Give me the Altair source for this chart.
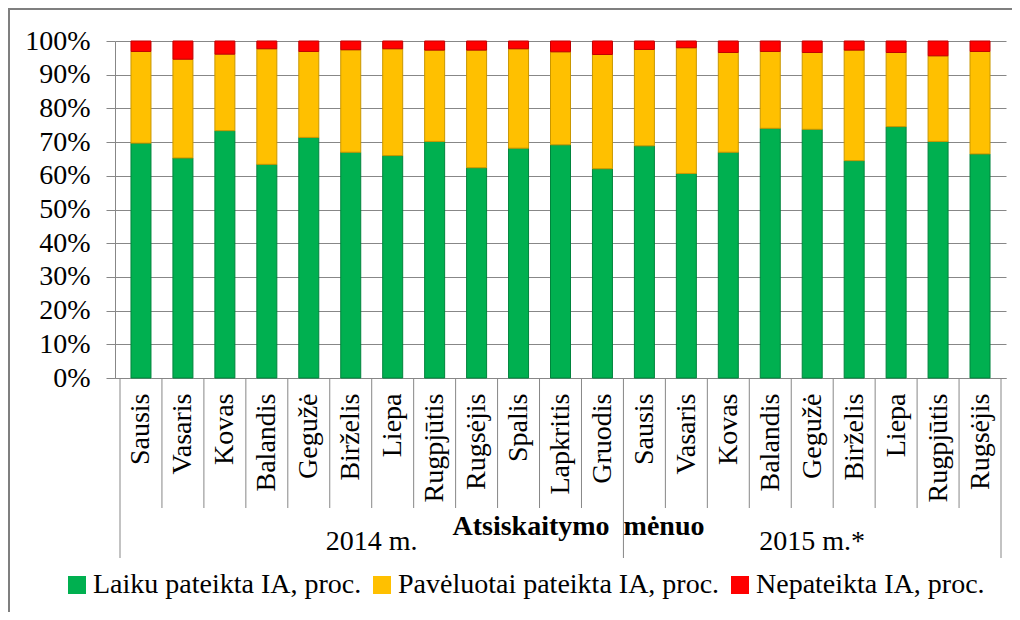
import altair as alt
import pandas as pd
import json

months = ["Sausis", "Vasaris", "Kovas", "Balandis", "Gegužė", "Birželis", "Liepa",
          "Rugpjūtis", "Rugsėjis", "Spalis", "Lapkritis", "Gruodis",
          "Sausis", "Vasaris", "Kovas", "Balandis", "Gegužė", "Birželis", "Liepa",
          "Rugpjūtis", "Rugsėjis"]
years = ["2014 m.", "2015 m.*"]
year_counts = [12, 9]
series = ["Laiku pateikta IA, proc.", "Pavėluotai pateikta IA, proc.", "Nepateikta IA, proc."]

laiku = [69.7, 65.3, 73.4, 63.4, 71.4, 67.0, 66.0, 70.2, 62.4, 68.2, 69.2, 62.1,
         68.9, 60.7, 67.0, 74.1, 73.8, 64.5, 74.6, 70.2, 66.5]
paveluotai = [27.2, 29.3, 22.7, 34.3, 25.5, 30.4, 31.7, 27.1, 34.9, 29.5, 27.6, 33.9,
              28.6, 37.3, 29.6, 22.8, 22.8, 32.8, 22.0, 25.4, 30.4]
nepateikta = [3.1, 5.4, 3.9, 2.3, 3.1, 2.6, 2.3, 2.7, 2.7, 2.3, 3.2, 4.0,
              2.5, 2.0, 3.4, 3.1, 3.4, 2.7, 3.4, 4.4, 3.1]

colors = ["#00B050", "#FFC000", "#FF0000"]
edges = ["#00843C", "#C99700", "#C00000"]
GRAY = "#878787"
FONT = "Liberation Serif"

rows = []
for i, m in enumerate(months):
    for k, vals in enumerate([laiku, paveluotai, nepateikta]):
        rows.append({"idx": i, "month": m, "series": series[k], "order": k, "value": vals[i]})
df = pd.DataFrame(rows)

n = len(months)
majors = [0]
for c in year_counts:
    majors.append(majors[-1] + c)
minor_df = pd.DataFrame({"b": [b for b in range(n + 1) if b not in majors]})
major_df = pd.DataFrame({"b": majors})
year_df = pd.DataFrame({
    "year": years,
    "center": [(majors[j] + majors[j + 1]) / 2 for j in range(len(years))],
})

W, H = 891, 337
x_scale = alt.Scale(domain=[0, n], nice=False, zero=False)

label_expr = json.dumps(months, ensure_ascii=False) + "[floor(datum.value)]"

bars = alt.Chart(df).transform_calculate(
    pos="datum.idx + 0.5"
).transform_stack(
    stack="value", groupby=["idx"], as_=["y0", "y1"],
    sort=[alt.SortField("order", "ascending")]
).mark_bar(size=20, strokeWidth=1).encode(
    x=alt.X("pos:Q", scale=x_scale,
            axis=alt.Axis(values=[i + 0.5 for i in range(n)], labelExpr=label_expr,
                          labelAngle=-90, ticks=False, tickSize=0, grid=False,
                          domainColor=GRAY, domainWidth=1,
                          labelFontSize=28, labelColor="black",
                          labelPadding=15,
                          title="Atsiskaitymo\u2002mėnuo", titleFontSize=28,
                          titleFontWeight="bold", titleColor="black",
                          titleX=463, titleY=156, titleAlign="center",
                          titleBaseline="alphabetic")),
    y=alt.Y("y0:Q", scale=alt.Scale(domain=[0, 100], nice=False),
            axis=alt.Axis(values=list(range(0, 101, 10)), labelExpr="datum.value + '%'",
                          grid=True, gridColor=GRAY, gridWidth=1,
                          domainColor=GRAY, tickColor=GRAY, tickSize=9,
                          labelFontSize=28, labelColor="black",
                          labelPadding=16, title=None)),
    y2="y1:Q",
    color=alt.Color("series:N", scale=alt.Scale(domain=series, range=colors),
                    legend=alt.Legend(orient="none", legendX=-52, legendY=530,
                                      direction="horizontal", title=None,
                                      symbolType="square", symbolSize=324,
                                      symbolStrokeWidth=0,
                                      labelFontSize=28,
                                      labelColor="black", labelOffset=2,
                                      columnPadding=6, labelLimit=0)),
    stroke=alt.Stroke("series:N", scale=alt.Scale(domain=series, range=edges), legend=None),
)

minor_rules = alt.Chart(minor_df).mark_rule(color=GRAY, strokeWidth=1).encode(
    x=alt.X("b:Q", scale=x_scale), y=alt.value(H), y2=alt.value(H + 130))
major_rules = alt.Chart(major_df).mark_rule(color=GRAY, strokeWidth=1).encode(
    x=alt.X("b:Q", scale=x_scale), y=alt.value(H), y2=alt.value(H + 180))

year_text = alt.Chart(year_df).mark_text(font=FONT, fontSize=28, color="black",
                                         align="center", baseline="alphabetic").encode(
    x=alt.X("center:Q", scale=x_scale), y=alt.value(H + 172), text="year:N")

frame = alt.Chart(alt.Data(values=[{}])).mark_rect(
    fillOpacity=0, stroke="#7F7F7F", strokeWidth=2).encode(
    x=alt.value(-106), y=alt.value(-32), x2=alt.value(W + 200), y2=alt.value(H + 400))

chart = alt.layer(frame, bars, minor_rules, major_rules, year_text).properties(
    width=W, height=H,
    autosize=alt.AutoSizeParams(type="none"),
    padding={"left": 107, "top": 33, "right": 6, "bottom": 234},
).configure(font=FONT).configure_axis(
    labelFont=FONT, titleFont=FONT
).configure_legend(labelFont=FONT).configure_view(strokeWidth=0)

chart.save("out.html", embed_options={"renderer": "svg", "actions": False})
